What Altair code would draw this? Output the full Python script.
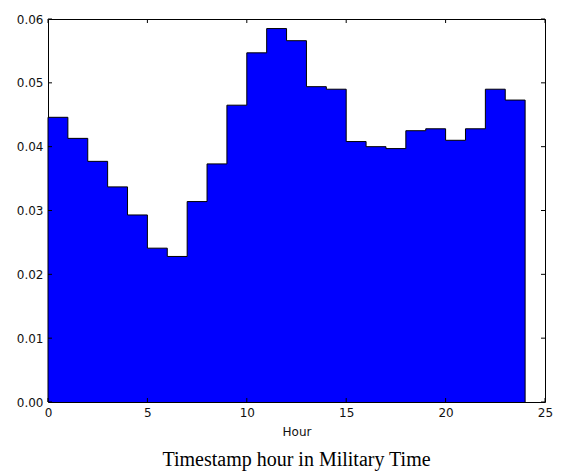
import altair as alt
import pandas as pd

# Histogram (density) of timestamp hour, 24 one-hour bins
hours = list(range(24))
density = [0.0446, 0.0413, 0.0377, 0.0337, 0.0293, 0.0241, 0.0228, 0.0314,
           0.0373, 0.0465, 0.0547, 0.0585, 0.0566, 0.0494, 0.0490, 0.0408,
           0.0400, 0.0397, 0.0425, 0.0428, 0.0410, 0.0428, 0.0490, 0.0473]
x_ticks = [0, 5, 10, 15, 20, 25]
y_ticks = [0.00, 0.01, 0.02, 0.03, 0.04, 0.05, 0.06]

W, H = 497, 383
x_scale = alt.Scale(domain=[0, 25], nice=False, zero=False)
y_scale = alt.Scale(domain=[0, 0.06], nice=False)
font_kw = dict(labelFont="DejaVu Sans", labelFontSize=12, labelColor="#111111",
               titleFont="DejaVu Sans", titleFontSize=12, titleFontWeight="normal",
               titleColor="#111111")
x_axis = alt.Axis(values=x_ticks, title="Hour", ticks=False, tickSize=0, domain=False,
                  grid=False, labelFlush=False, labelOverlap=False, labelPadding=5,
                  titlePadding=8, **font_kw)
y_axis = alt.Axis(values=y_ticks, format=".2f", title=None, ticks=False, tickSize=0,
                  domain=False, grid=False, labelFlush=False, labelOverlap=False,
                  labelPadding=5, **font_kw)

# fill area (step)
area_df = pd.DataFrame({"hour": hours + [24], "density": density + [density[-1]]})
# outline (step)
line_x = [0] + hours + [24, 24]
line_y = [0.0] + density + [density[-1], 0.0]
line_df = pd.DataFrame({"hour": line_x, "density": line_y, "i": list(range(len(line_x)))})

xt_df = pd.DataFrame({"hour": x_ticks})
yt_df = pd.DataFrame({"density": y_ticks})

X = alt.X("hour:Q", scale=x_scale, axis=x_axis)
Y = alt.Y("density:Q", scale=y_scale, axis=y_axis)

area = alt.Chart(area_df).mark_area(interpolate="step-after", color="#0000ff").encode(x=X, y=Y)

outline = alt.Chart(line_df).mark_line(interpolate="step-after", color="black", strokeWidth=1).encode(
    x=X, y=Y, order=alt.Order("i:Q"),
)

tick_kw = dict(color="black", strokeWidth=1)
xt_bottom = alt.Chart(xt_df).mark_rule(**tick_kw).encode(
    x=X, y=alt.value(H), y2=alt.value(H - 4))
xt_top = alt.Chart(xt_df).mark_rule(**tick_kw).encode(
    x=X, y=alt.value(0), y2=alt.value(4))
yt_left = alt.Chart(yt_df).mark_rule(**tick_kw).encode(
    y=Y, x=alt.value(0), x2=alt.value(4))
yt_right = alt.Chart(yt_df).mark_rule(**tick_kw).encode(
    y=Y, x=alt.value(W), x2=alt.value(W - 4))

chart = alt.layer(area, outline, xt_bottom, xt_top, yt_left, yt_right).properties(
    width=W, height=H,
    title=alt.TitleParams("Timestamp hour in Military Time", orient="bottom",
                          font="Liberation Serif", fontSize=20, fontWeight="normal",
                          color="black", offset=13),
    autosize=alt.AutoSizeParams(type="none"),
    padding={"left": 48, "top": 19, "right": 17, "bottom": 73},
    background="white",
).configure_view(stroke="black", strokeWidth=1)

chart.save("out.html", embed_options={"renderer": "svg", "actions": False})
